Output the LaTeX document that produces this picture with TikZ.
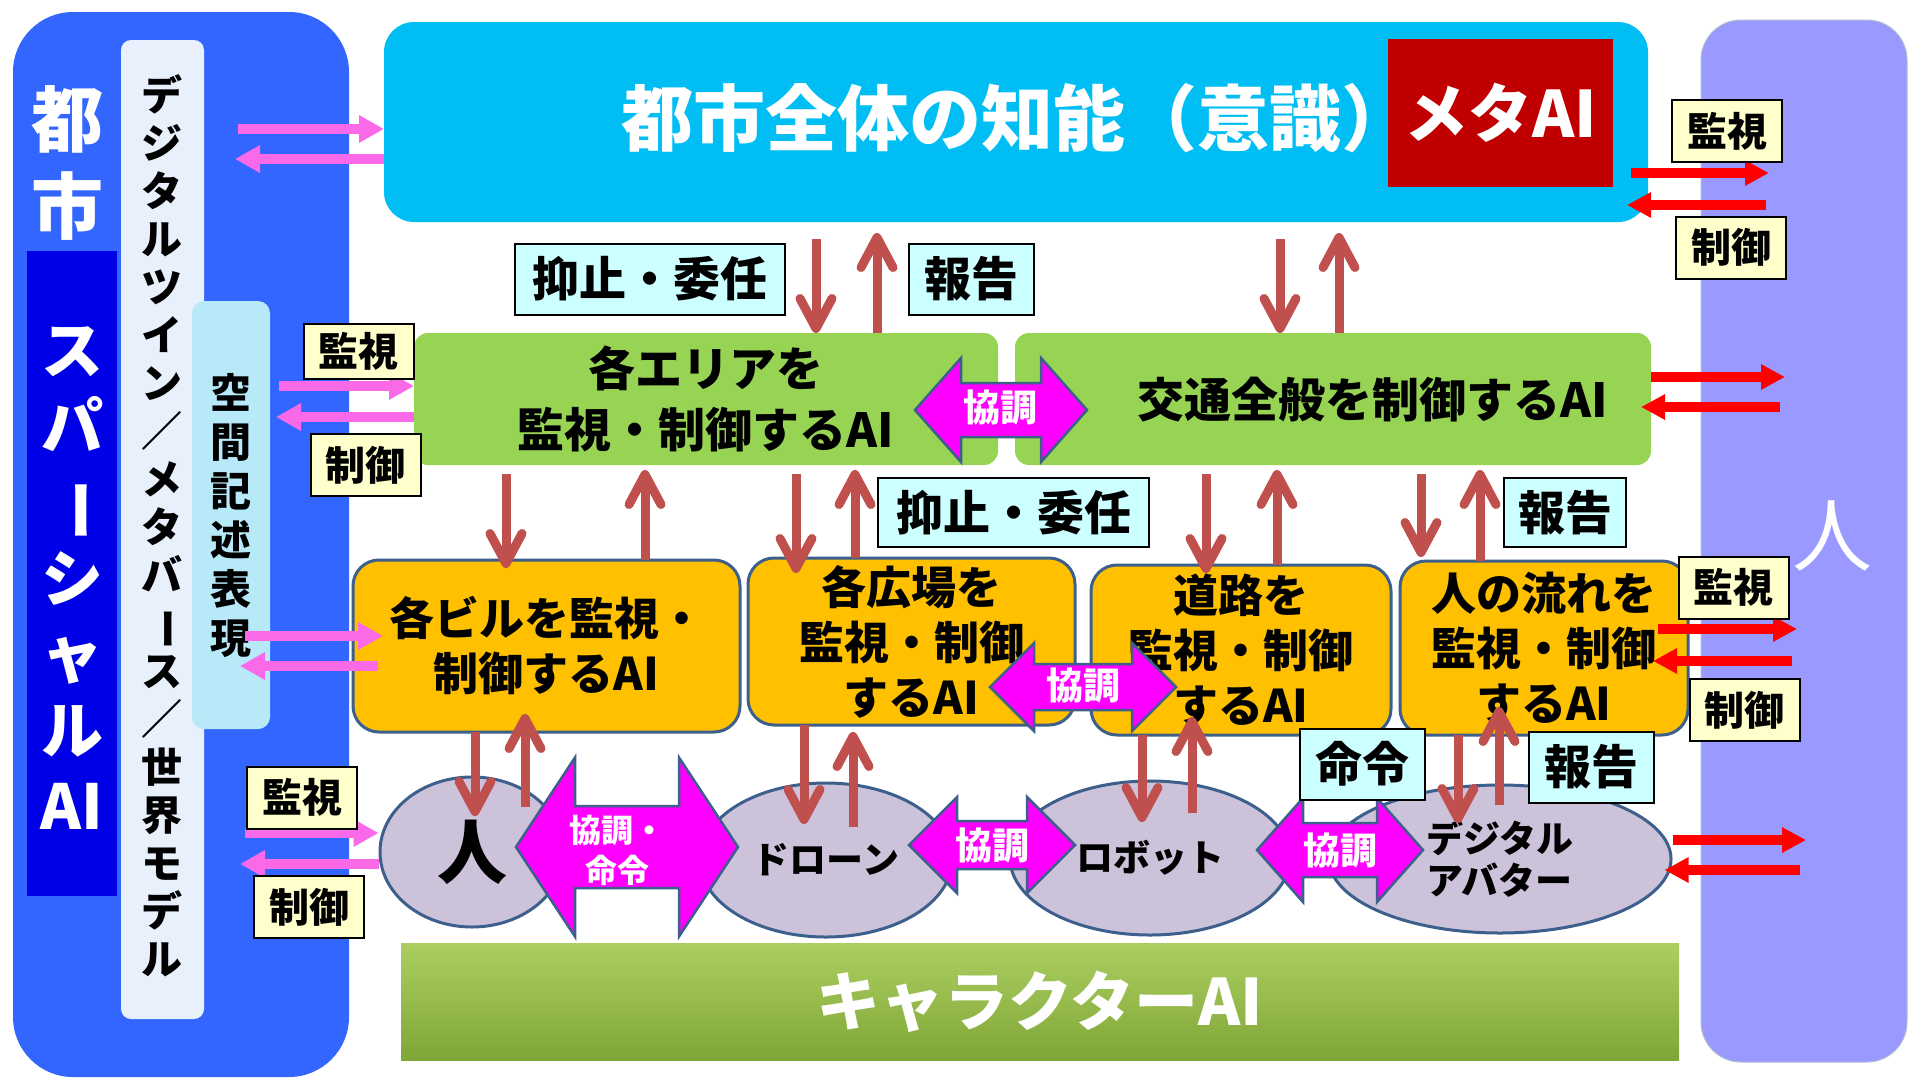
\documentclass[tikz,border=0pt]{standalone}
\usepackage{fontspec}
\setmainfont{Noto Sans CJK JP}
\usetikzlibrary{positioning,arrows.meta,shapes.geometric}
\definecolor{cityblue}{RGB}{51,102,255}
\definecolor{spatialblue}{RGB}{0,0,230}
\definecolor{twinpanel}{RGB}{232,240,252}
\definecolor{spacecyan}{RGB}{183,233,248}
\definecolor{metacyan}{RGB}{0,190,243}
\definecolor{metared}{RGB}{192,0,0}
\definecolor{areagreen}{RGB}{152,212,84}
\definecolor{chargreentop}{RGB}{172,206,96}
\definecolor{chargreenbot}{RGB}{128,166,56}
\definecolor{aiorange}{RGB}{255,192,0}
\definecolor{edgeblue}{RGB}{60,95,140}
\definecolor{agentgray}{RGB}{204,194,218}
\definecolor{coopmagenta}{RGB}{255,0,255}
\definecolor{flowbrown}{RGB}{192,80,77}
\definecolor{linkpink}{RGB}{250,105,232}
\definecolor{linkred}{RGB}{255,0,0}
\definecolor{humanpurple}{RGB}{153,153,255}
\definecolor{tagyellow}{RGB}{255,255,204}
\definecolor{tagcyan}{RGB}{204,255,255}
% block double arrow: left tip, right tip, mid y, shaft half, head half, head length
\newcommand{\coopArrow}[6]{%
  \draw[coop] (#1,#3) -- ({#1+#6},{#3-#5}) -- ({#1+#6},{#3-#4}) -- ({#2-#6},{#3-#4})
    -- ({#2-#6},{#3-#5}) -- (#2,#3) -- ({#2-#6},{#3+#5}) -- ({#2-#6},{#3+#4})
    -- ({#1+#6},{#3+#4}) -- ({#1+#6},{#3+#5}) -- cycle;}
\newcommand{\vbar}{\rotatebox[origin=c]{-90}{ー}}

\begin{document}
\begin{tikzpicture}[x=1pt,y=-1pt,
  panel/.style={rectangle,inner sep=0pt,outer sep=0pt},
  greenbox/.style={panel,rounded corners=14pt,fill=areagreen,align=center,font=\bfseries\fontsize{47}{61}\selectfont},
  orangebox/.style={panel,rounded corners=26pt,fill=aiorange,draw=edgeblue,line width=3pt,align=center,font=\bfseries\fontsize{45}{55}\selectfont},
  agent/.style={ellipse,inner sep=0pt,fill=agentgray,draw=edgeblue,line width=3pt,align=left,font=\bfseries\fontsize{37}{42}\selectfont},
  labelbox/.style={panel,draw=black,line width=2pt},
  yellowtag/.style={labelbox,fill=tagyellow,minimum width=110pt,minimum height=62pt,font=\bfseries\fontsize{40}{40}\selectfont},
  cyantag/.style={labelbox,fill=tagcyan,minimum width=125pt,minimum height=71pt,font=\bfseries\fontsize{47}{47}\selectfont},
  cooptext/.style={text=white,inner sep=0pt,align=center,font=\bfseries\fontsize{37}{37}\selectfont},
  coop/.style={fill=coopmagenta,draw=edgeblue,line width=2.5pt,line join=miter},
  brarr/.style={flowbrown,line width=9pt,-{Straight Barb[length=30pt,width=32pt,round]}},
  dnA/.style={brarr,shorten <=17pt},
  upA/.style={brarr,shorten >=11pt},
  dnB/.style={brarr,shorten <=9pt,shorten >=-8pt},
  upB/.style={brarr,shorten >=5pt},
  dnC/.style={brarr,shorten >=36pt},
  upC/.style={brarr,shorten <=45pt,shorten >=-18pt},
  pinkarr/.style={linkpink,line width=10pt,-{Triangle[length=25pt,width=26pt]}},
  redarr/.style={linkred,line width=10pt,-{Triangle[length=24pt,width=24pt]}}
]
\useasboundingbox (0,0) rectangle (1920,1080);
\fill[white] (0,0) rectangle (1920,1080);

% city side panels
\node[panel,fill=cityblue,rounded corners=60pt,minimum width=336pt,minimum height=1065pt] (city) at (181,544.5) {};
\node[text=white,align=center,font=\bfseries\fontsize{72}{87}\selectfont] (citylab) at (67,163) {都\\市};
\node[panel,fill=spatialblue,minimum width=90pt,minimum height=645pt] (spatial) at (72,573.5) {};
\node[text=white,align=center,font=\bfseries\fontsize{62}{76}\selectfont] (spatiallab) at (72,578) {ス\\パ\\\vbar\\シ\\ャ\\ル\\AI};
\node[panel,fill=twinpanel,rounded corners=10pt,minimum width=83pt,minimum height=979pt] (twin) at (162.5,529.5) {};
\node[align=center,font=\bfseries\fontsize{41}{48}\selectfont] (twinlab) at (162,526)
  {デ\\ジ\\タ\\ル\\ツ\\イ\\ン\\／\\メ\\タ\\バ\\\vbar\\ス\\／\\世\\界\\モ\\デ\\ル};
\node[panel,fill=spacecyan,rounded corners=12pt,minimum width=78pt,minimum height=428pt] (space) at (231,515) {};
\node[align=center,font=\bfseries\fontsize{41}{49}\selectfont] (spacelab) at (231,516) {空\\間\\記\\述\\表\\現};

% human side panel
\node[panel,fill=humanpurple,draw=edgeblue!40,line width=1pt,rounded corners=40pt,minimum width=206pt,minimum height=1042pt] (human) at (1804,541) {};
\node[text=white,font=\fontsize{80}{80}\selectfont] (humanlab) at (1832,536) {人};

% meta AI
\node[panel,fill=metacyan,rounded corners=30pt,minimum width=1264pt,minimum height=200pt] (top) at (1016,122) {};
\node[text=white,font=\bfseries\fontsize{72}{72}\selectfont] (toplab) at (1017,118) {都市全体の知能（意識）};
\node[panel,fill=metared,minimum width=225pt,minimum height=148pt,text=white,font=\bfseries\fontsize{64}{64}\selectfont] (meta) at (1500.5,113) {メタAI};

% area level
\node[greenbox,minimum width=584pt,minimum height=132pt] (area) at (706,399) {各エリアを\\監視・制御するAI};
\node[greenbox,minimum width=636pt,minimum height=132pt] (traffic) at (1333,399) {};
\node[font=\bfseries\fontsize{47}{47}\selectfont] (trafficlab) at (1373,400) {交通全般を制御するAI};

% local level
\node[orangebox,minimum width=387pt,minimum height=172pt] (bldg) at (546.5,646) {各ビルを監視・\\制御するAI};
\node[orangebox,minimum width=327pt,minimum height=167pt] (plaza) at (911.5,641.5) {各広場を\\監視・制御\\するAI};
\node[orangebox,minimum width=300pt,minimum height=170pt] (road) at (1241,650) {道路を\\監視・制御\\するAI};
\node[orangebox,minimum width=288pt,minimum height=174pt] (flow) at (1544,648) {人の流れを\\監視・制御\\するAI};

% agents
\node[agent,minimum width=184pt,minimum height=150pt,font=\bfseries\fontsize{70}{70}\selectfont] (person) at (472,852) {人};
\node[agent,minimum width=252pt,minimum height=154pt] (drone) at (826,860) {ドローン};
\node[agent,minimum width=280pt,minimum height=154pt] (robot) at (1150,858) {ロボット};
\node[agent,minimum width=342pt,minimum height=148pt] (avatar) at (1500,859) {デジタル\\アバター};

% character AI bar
\node[panel,top color=chargreentop,bottom color=chargreenbot,minimum width=1278pt,minimum height=117pt,
      text=white,font=\bfseries\fontsize{64}{64}\selectfont] (chara) at (1040,1001.5) {キャラクターAI};

% vertical links
\draw[dnA] (816,0 |- top.south) -- (816,0 |- area.north);
\draw[upA] (877,0 |- area.north) -- (877,0 |- top.south);
\draw[dnA] (1280,0 |- top.south) -- (1280,0 |- traffic.north);
\draw[upA] (1339,0 |- traffic.north) -- (1339,0 |- top.south);

\draw[dnB] (506,0 |- area.south) -- (506,0 |- bldg.north);
\draw[upB] (645,0 |- bldg.north) -- (645,0 |- area.south);
\draw[dnB,shorten >=-15pt] (796,0 |- area.south) -- (796,0 |- plaza.north);
\draw[upB] (855,0 |- plaza.north) -- (855,0 |- area.south);
\draw[dnB] (1206,0 |- traffic.south) -- (1206,0 |- road.north);
\draw[upB] (1277,0 |- road.north) -- (1277,0 |- traffic.south);
\draw[dnB,shorten >=4pt] (1421,0 |- traffic.south) -- (1421,0 |- flow.north);
\draw[upB] (1480,0 |- flow.north) -- (1480,0 |- traffic.south);

\draw[dnC] (475,0 |- bldg.south) -- (475,0 |- person.center);
\draw[upC] (525,0 |- person.center) -- (525,0 |- bldg.south);
\draw[dnC] (804,0 |- plaza.south) -- (804,0 |- drone.center);
\draw[upC,shorten <=33pt,shorten >=7pt] (853,0 |- drone.center) -- (853,0 |- plaza.south);
\draw[dnC] (1142,0 |- road.south) -- (1142,0 |- robot.center);
\draw[upC] (1192,0 |- robot.center) -- (1192,0 |- road.south);
\draw[dnC] (1458,0 |- flow.south) -- (1458,0 |- avatar.center);
\draw[upC,shorten <=54pt,shorten >=-28pt] (1499,0 |- avatar.center) -- (1499,0 |- flow.south);

% cooperation arrows
\coopArrow{915}{1087}{410}{27}{52}{46}
\node[cooptext] (coop1) at (1000,408) {協調};
\coopArrow{990}{1176}{687}{23}{44}{44}
\node[cooptext] (coop2) at (1083,686) {協調};
\coopArrow{516}{738}{847}{41}{89.5}{59}
\node[cooptext,font=\bfseries\fontsize{32}{40}\selectfont] (coop3) at (617,850) {協調・\\命令};
\coopArrow{909}{1075}{845}{24}{48}{48}
\node[cooptext] (coop4) at (992,845) {協調};
\coopArrow{1257}{1423}{850}{27}{52}{46}
\node[cooptext] (coop5) at (1340,850) {協調};

% digital twin <-> AIs
\coordinate (tw1) at (238,129);
\coordinate (tw2) at (235,159);
\draw[pinkarr] (tw1) -- (tw1 -| top.west);
\draw[pinkarr] (tw2 -| top.west) -- (tw2);
\coordinate (tw3) at (279,386);
\coordinate (tw4) at (276,417);
\draw[pinkarr] (tw3) -- (tw3 -| area.west);
\draw[pinkarr] (tw4 -| area.west) -- (tw4);
\coordinate (tw5) at (245,636);
\coordinate (tw6) at (240,666);
\draw[pinkarr,shorten >=-30pt] (tw5) -- (tw5 -| bldg.west);
\draw[pinkarr,shorten <=-25pt] (tw6 -| bldg.west) -- (tw6);
\coordinate (tw7) at (245,833);
\coordinate (tw8) at (240,864);
\draw[pinkarr] (tw7) -- (tw7 -| person.west);
\draw[pinkarr] (tw8 -| person.west) -- (tw8);

% AIs <-> humans
\coordinate (hm1) at (1769,173);
\coordinate (hm2) at (1766,205);
\draw[redarr,shorten <=-17pt] (hm1 -| top.east) -- (hm1);
\draw[redarr,shorten >=-21pt] (hm2) -- (hm2 -| top.east);
\coordinate (hm3) at (1785,377);
\coordinate (hm4) at (1780,407);
\draw[redarr] (hm3 -| traffic.east) -- (hm3);
\draw[redarr,shorten >=-10pt] (hm4) -- (hm4 -| traffic.east);
\coordinate (hm5) at (1797,629);
\coordinate (hm6) at (1792,661);
\draw[redarr,shorten <=-30pt] (hm5 -| flow.east) -- (hm5);
\draw[redarr,shorten >=-35pt] (hm6) -- (hm6 -| flow.east);
\coordinate (hm7) at (1806,840);
\coordinate (hm8) at (1800,870);
\draw[redarr] (hm7 -| avatar.east) -- (hm7);
\draw[redarr,shorten >=-8pt] (hm8) -- (hm8 -| avatar.east);

% tags
\node[yellowtag] (mon1) at (1727,131) {監視};
\node[yellowtag] (ctl1) at (1731,247.5) {制御};
\node[cyantag,minimum width=270pt] (inhibit1) at (650,279) {抑止・委任};
\node[cyantag] (report1) at (971.5,279) {報告};
\node[yellowtag,minimum height=55pt] (mon2) at (358.5,351.5) {監視};
\node[yellowtag] (ctl2) at (365.5,465) {制御};
\node[cyantag,minimum width=271pt,minimum height=69pt] (inhibit2) at (1013.5,512.5) {抑止・委任};
\node[cyantag,minimum width=122pt,minimum height=69pt] (report2) at (1565,512.5) {報告};
\node[yellowtag] (mon3) at (1733.5,587.5) {監視};
\node[yellowtag] (ctl3) at (1744.5,710) {制御};
\node[cyantag] (order) at (1362.5,764) {命令};
\node[cyantag] (report3) at (1591.5,767) {報告};
\node[yellowtag] (mon4) at (302,797.5) {監視};
\node[yellowtag] (ctl4) at (309,907) {制御};

\end{tikzpicture}
\end{document}
